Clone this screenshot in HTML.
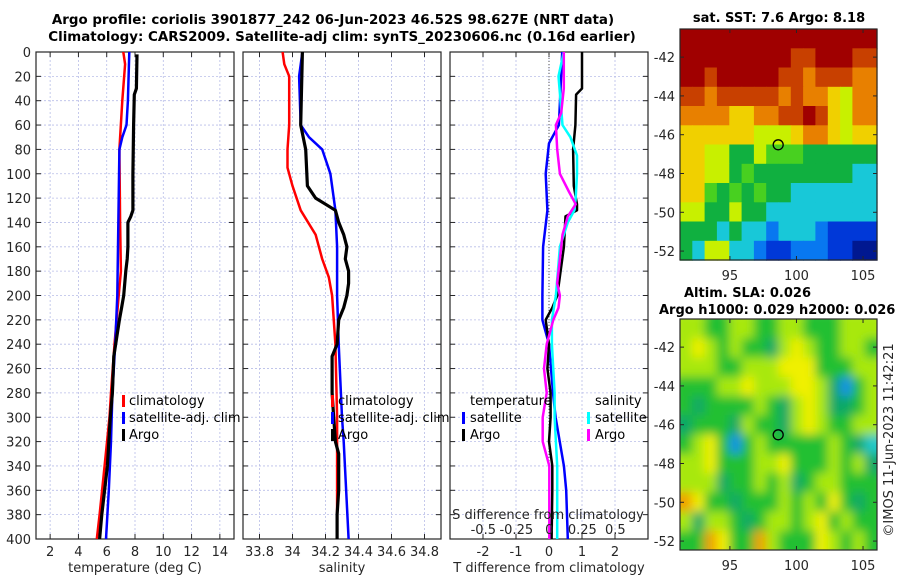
<!DOCTYPE html>
<html><head><meta charset="utf-8">
<style>
html,body{margin:0;padding:0;background:#fff;}
svg{display:block;font-family:"DejaVu Sans","Liberation Sans",sans-serif;}
.tk{font-size:13px;fill:#262626;}
.ttl{font-size:13px;font-weight:bold;fill:#000;}
.ttlm{font-size:13.4px;font-weight:bold;fill:#000;}
.lg{font-size:13px;fill:#000;}
</style></head>
<body>
<svg id="fig" width="900" height="580" viewBox="0 0 900 580">
<defs>
<clipPath id="c1"><rect x="36" y="52" width="198" height="487"/></clipPath>
<clipPath id="c2"><rect x="243" y="52" width="198" height="487"/></clipPath>
<clipPath id="c3"><rect x="450" y="52" width="198" height="487"/></clipPath>
<clipPath id="cm2"><rect x="680" y="319" width="197" height="231"/></clipPath>
<filter id="blur" x="-5%" y="-5%" width="110%" height="110%"><feGaussianBlur stdDeviation="5"/></filter>
</defs>
<text class="ttlm" x="333" y="24" text-anchor="middle">Argo profile: coriolis 3901877_242 06-Jun-2023 46.52S 98.627E (NRT data)</text>
<text class="ttlm" x="342" y="41" text-anchor="middle">Climatology: CARS2009. Satellite-adj clim: synTS_20230606.nc (0.16d earlier)</text>
<text class="ttl" x="779" y="22" text-anchor="middle">sat. SST: 7.6 Argo: 8.18</text>
<text class="ttl" x="684" y="297">Altim. SLA: 0.026</text>
<text class="ttl" x="659" y="314">Argo h1000: 0.029 h2000: 0.026</text>
<text class="tk" transform="translate(893,440) rotate(-90)" text-anchor="middle">©IMOS 11-Jun-2023 11:42:21</text>
<g id="root"></g>
</svg>
<script>
// ---- data ----
const depthTicks=[0,20,40,60,80,100,120,140,160,180,200,220,240,260,280,300,320,340,360,380,400];
const tTicks=[2,4,6,8,10,12,14];
const sTicks=[33.8,34,34.2,34.4,34.6,34.8];
const sTickLabels=["33.8","34","34.2","34.4","34.6","34.8"];
const dTicks=[-2,-1,0,1,2];
const dsTicks=[-0.5,-0.25,0,0.25,0.5];
const dsTickLabels=["-0.5","-0.25","0","0.25","0.5"];

const tClimDepth=[0,10,40,80,140,180,200,240,280,300,340,380,400];
const tClimVal=[7.17,7.3,7.1,6.9,6.95,7.0,6.85,6.55,6.3,6.2,5.85,5.5,5.3];
const tSatDepth=[0,40,60,70,80,120,160,200,240,280,320,360,400];
const tSatVal=[7.6,7.5,7.4,7.1,6.9,6.85,6.8,6.75,6.6,6.4,6.3,6.15,5.95];
const tArgoDepth=[2,30,35,60,100,130,135,140,160,170,180,200,210,220,250,280,300,340,360,380,400];
const tArgoVal=[8.14,8.1,7.95,7.9,7.85,7.85,7.7,7.5,7.5,7.45,7.35,7.2,7.05,6.9,6.5,6.4,6.25,6.05,5.85,5.65,5.5];

const sClimDepth=[0,10,20,60,80,95,110,130,150,170,185,200,240,300,400];
const sClimVal=[33.94,33.95,33.98,33.98,33.97,33.97,34.0,34.05,34.14,34.18,34.22,34.24,34.26,34.27,34.27];
const sSatDepth=[0,20,60,70,80,100,130,160,200,240,300,320,400];
const sSatVal=[34.06,34.04,34.05,34.1,34.18,34.23,34.26,34.27,34.27,34.28,34.3,34.31,34.34];
const sArgoDepth=[0,60,80,110,120,125,130,140,150,160,170,180,190,200,210,220,240,250,280,300,320,330,360,380,400];
const sArgoVal=[34.06,34.05,34.08,34.09,34.14,34.2,34.26,34.28,34.31,34.33,34.32,34.34,34.34,34.33,34.31,34.28,34.27,34.24,34.24,34.25,34.26,34.28,34.28,34.27,34.27];

const dtSatDepth=[0,60,75,100,130,160,200,220,240,280,300,340,360,400];
const dtSatVal=[0.4,0.3,0.0,-0.1,-0.05,-0.18,-0.2,-0.2,0.0,0.12,0.2,0.45,0.52,0.57];
const dtArgoDepth=[0,30,35,60,80,110,125,130,135,160,200,210,220,240,260,280,300,320,340,360,400];
const dtArgoVal=[1.0,1.0,0.82,0.8,0.73,0.75,0.85,0.85,0.5,0.45,0.25,0.1,-0.1,0.0,-0.05,0.05,0.05,0.0,0.1,0.1,0.08];
const dsSatDepth=[0,20,60,70,85,100,120,130,140,160,200,220,240,280,300,340,400];
const dsSatVal=[0.11,0.07,0.1,0.16,0.21,0.21,0.2,0.19,0.14,0.08,0.05,0.02,0.02,0.04,0.04,0.06,0.06];
const dsArgoDepth=[0,30,50,60,80,100,115,125,135,150,170,190,200,210,220,240,260,280,300,320,340,400];
const dsArgoVal=[0.11,0.11,0.09,0.05,0.06,0.08,0.15,0.2,0.14,0.1,0.08,0.06,0.08,0.07,0.03,-0.02,-0.04,-0.02,-0.05,-0.05,0.0,0.0];

const lonTicks=[95,100,105];
const latTicks=[-42,-44,-46,-48,-50,-52];
const argoLon=98.627, argoLat=-46.52;
const sstGrid=[
[10,10,10,10,10,10,10,10,10,10,10,10,10,10,10,10],
[10,10,10,10,10,10,10,10,10,9,9,10,10,10,9,9],
[10,10,9,10,10,10,10,10,9,9,8,9,9,9,8,8],
[9,9,8,9,9,9,9,9,8,9,8,8,7,6,8,8],
[8,8,8,8,7,7,8,8,9,9,10,9,7,6,8,8],
[7,7,7,7,7,7,6,6,6,7,8,8,7,6,7,7],
[7,7,6,6,4,4,6,5,5,5,4,4,4,4,4,4],
[7,7,6,6,4,5,4,4,4,4,4,4,4,4,3,3],
[7,7,5,4,5,4,5,4,4,3,3,3,3,3,3,3],
[6,6,4,4,6,4,4,3,3,3,3,3,3,3,3,3],
[4,4,4,3,4,3,3,2,3,3,3,2,1,1,1,1],
[4,3,6,6,3,3,2,1,1,2,2,2,1,1,0,0]];
const slaGrid=[
[1,1,0,0,1,1,0,0,1,1,0,0,0,1,1,1],
[1,2,1,0,1,0,0,-1,1,2,1,0,0,1,1,0],
[1,1,1,0,0,1,1,1,2,2,2,0,0,0,1,1],
[0,0,0,1,1,2,1,1,1,2,2,1,-1,-3,0,1],
[0,-1,0,0,0,0,1,0,-1,1,2,1,-1,-1,0,1],
[-1,0,0,0,-1,1,0,0,-1,1,2,1,0,0,1,1],
[0,1,2,0,-3,0,1,0,0,0,0,0,1,0,-1,-2],
[1,1,2,0,0,0,1,1,2,0,0,0,1,0,1,-1],
[1,1,1,-1,0,0,1,0,1,-1,0,1,1,0,0,0],
[3,2,0,0,-1,0,0,0,1,0,1,0,2,0,-1,0],
[1,-1,1,1,0,-1,0,1,1,0,1,2,0,1,0,0],
[0,0,3,2,0,0,3,1,0,0,0,2,1,0,1,0]];

// ---- helpers ----
const NS="http://www.w3.org/2000/svg";
const root=document.getElementById('root');
function mk(tag,attrs,parent){const e=document.createElementNS(NS,tag);for(const k in attrs)e.setAttribute(k,attrs[k]);(parent||root).appendChild(e);return e;}
const Y0=52,Y1=539;
const yD=d=>Y0+(d/400)*(Y1-Y0);

function panel(name,x0,x1,xmin,xmax,ticks,labels,xlabel,clip){
  const g=mk('g',{});
  
  
  const sx=v=>x0+(v-xmin)/(xmax-xmin)*(x1-x0);
  ticks.forEach((t,i)=>{
    const gl=mk('line',{x1:sx(t),x2:sx(t),y1:Y0,y2:Y1,stroke:'#b8bde8','stroke-width':0.8,'stroke-dasharray':'2,2'},g);
    
    
    mk('line',{x1:sx(t),x2:sx(t),y1:Y1,y2:Y1-5,stroke:'#262626'},g);
    mk('line',{x1:sx(t),x2:sx(t),y1:Y0,y2:Y0+5,stroke:'#262626'},g);
    const tx=mk('text',{x:sx(t),y:556,'text-anchor':'middle',class:'tk'},g);
    tx.textContent=labels[i];
    
    
  });
  depthTicks.forEach(d=>{
    if(d>0&&d<400){const gl=mk('line',{x1:x0,x2:x1,y1:yD(d),y2:yD(d),stroke:'#b8bde8','stroke-width':0.8,'stroke-dasharray':'2,2'},g);
    
    }
    mk('line',{x1:x0,x2:x0+5,y1:yD(d),y2:yD(d),stroke:'#262626'},g);
    mk('line',{x1:x1,x2:x1-5,y1:yD(d),y2:yD(d),stroke:'#262626'},g);
  });
  const fr=mk('rect',{x:x0,y:Y0,width:x1-x0,height:Y1-Y0,fill:'none',stroke:'#262626','stroke-width':1.2},g);
  
  
  if(xlabel){const xl=mk('text',{x:(x0+x1)/2,y:572,'text-anchor':'middle',class:'tk'},g);xl.textContent=xlabel;
  
  }
  return {g,sx,clip};
}
function line(p,name,depths,vals,color,w,scale){
  const s=scale||p.sx;
  const pts=depths.map((d,i)=>s(vals[i]).toFixed(1)+','+yD(d).toFixed(1)).join(' ');
  const pl=mk('polyline',{points:pts,fill:'none',stroke:color,'stroke-width':w,'stroke-linejoin':'round','clip-path':'url(#'+p.clip+')'},p.g);
  
  
}
function legend(g,x,y,items,name){
  const lg=mk('g',{},g);
  
  
  items.forEach((it,i)=>{
    if(it[1]) mk('rect',{x:x,y:y+i*17-10,width:3,height:12,fill:it[1]},lg);
    const t=mk('text',{x:x+it[2],y:y+i*17,class:'lg'},lg);t.textContent=it[0];
  });
}

// y tick labels (panel 1)
depthTicks.forEach(d=>{const t=mk('text',{x:31,y:yD(d)+5,'text-anchor':'end',class:'tk'});t.textContent=d;
  
  });

const p1=panel('temperature-panel',36,234,1,15,tTicks,tTicks.map(String),'temperature (deg C)','c1');
line(p1,'temperature-climatology-line',tClimDepth,tClimVal,'#ff0000',2.5);
line(p1,'temperature-satellite-line',tSatDepth,tSatVal,'#0000ff',2.5);
line(p1,'temperature-argo-line',tArgoDepth,tArgoVal,'#000000',3.2);
legend(p1.g,122,405,[['climatology','#ff0000',7],['satellite-adj. clim','#0000ff',7],['Argo','#000',7]],'temperature-legend');

const p2=panel('salinity-panel',243,441,33.7,34.9,sTicks,sTickLabels,'salinity','c2');
line(p2,'salinity-climatology-line',sClimDepth,sClimVal,'#ff0000',2.5);
line(p2,'salinity-satellite-line',sSatDepth,sSatVal,'#0000ff',2.5);
line(p2,'salinity-argo-line',sArgoDepth,sArgoVal,'#000000',3.2);
legend(p2.g,331,405,[['climatology','#ff0000',7],['satellite-adj. clim','#0000ff',7],['Argo','#000',7]],'salinity-legend');

const p3=panel('difference-panel',450,648,-3,3,dTicks,dTicks.map(String),'T difference from climatology','c3');
const sxS=v=>549.3+v*132;
const zl=mk('line',{x1:p3.sx(0),x2:p3.sx(0),y1:Y0,y2:Y1,stroke:'#555','stroke-width':1,'stroke-dasharray':'1,2'},p3.g);


line(p3,'t-diff-satellite-line',dtSatDepth,dtSatVal,'#0000ff',2.5);
line(p3,'t-diff-argo-line',dtArgoDepth,dtArgoVal,'#000000',2.5);
line(p3,'s-diff-satellite-line',dsSatDepth,dsSatVal,'#00ffff',2.5,sxS);
line(p3,'s-diff-argo-line',dsArgoDepth,dsArgoVal,'#ff00ff',2.5,sxS);
legend(p3.g,462,405,[['temperature',null,8],['satellite','#0000ff',8],['Argo','#000',8]],'t-diff-legend');
legend(p3.g,587,405,[['salinity',null,8],['satellite','#00ffff',8],['Argo','#ff00ff',8]],'s-diff-legend');
{const t=mk('text',{x:548,y:519,'text-anchor':'middle',class:'tk'},p3.g);t.textContent='S difference from climatology';

}
dsTicks.forEach((v,i)=>{const t=mk('text',{x:sxS(v),y:534,'text-anchor':'middle',class:'tk'},p3.g);t.textContent=dsTickLabels[i];
  
  });

// ---- maps ----
const sstPal=['#001890','#0038d8','#0878f0','#18c8d8','#10b040','#48d020','#c8f000','#f0d000','#e88000','#c84000','#a00000'];
const slaPal={'-3':'#1890e8','-2':'#20c8c8','-1':'#10a868','0':'#20c030','1':'#a8e810','2':'#f0f000','3':'#f0a000'};
function map(name,x0,x1,y0,y1,yTop,yBot,grid,pal,clipId,blur){
  const g=mk('g',{});
  
  
  const lon0=91.25,lon1=106.05;
  const sx=v=>x0+(v-lon0)/(lon1-lon0)*(x1-x0);
  const sy=v=>y0+(yTop-v)/(yTop-yBot)*(y1-y0);
  const cg=mk('g',clipId?{'clip-path':'url(#'+clipId+')'}:{},g);
  const ig=mk('g',blur?{filter:'url(#blur)'}:{},cg);
  const rows=grid.length,cols=grid[0].length;
  const cw=(x1-x0)/cols,ch=(y1-y0)/rows;
  grid.forEach((r,i)=>r.forEach((v,j)=>{
    const c=mk('rect',{x:(x0+j*cw-(blur&&j==0?8:0)).toFixed(1),y:(y0+i*ch-(blur&&i==0?8:0)).toFixed(1),width:(cw+0.6+(blur&&(j==0||j==cols-1)?8:0)).toFixed(1),height:(ch+0.6+(blur&&(i==0||i==rows-1)?8:0)).toFixed(1),fill:pal[v]},ig);
    
    
  }));
  const fr=mk('rect',{x:x0,y:y0,width:x1-x0,height:y1-y0,fill:'none',stroke:'#262626','stroke-width':1.2},g);
  
  
  lonTicks.forEach(v=>{mk('line',{x1:sx(v),x2:sx(v),y1:y1,y2:y1-4,stroke:'#262626'},g);mk('line',{x1:sx(v),x2:sx(v),y1:y0,y2:y0+4,stroke:'#262626'},g);
    const t=mk('text',{x:sx(v),y:y1+20,'text-anchor':'middle',class:'tk'},g);t.textContent=v;
    
    });
  latTicks.forEach(v=>{mk('line',{x1:x0,x2:x0+4,y1:sy(v),y2:sy(v),stroke:'#262626'},g);mk('line',{x1:x1,x2:x1-4,y1:sy(v),y2:sy(v),stroke:'#262626'},g);
    const t=mk('text',{x:x0-5,y:sy(v)+5,'text-anchor':'end',class:'tk'},g);t.textContent=v;
    
    });
  const m=mk('circle',{cx:sx(argoLon),cy:sy(argoLat),r:5,fill:'none',stroke:'#000','stroke-width':1.3},g);
  
  
}
map('sst-map',680,877,29,260,-40.55,-52.46,sstGrid,sstPal,null,false);
map('sla-map',680,877,319,550,-40.55,-52.46,slaGrid,slaPal,'cm2',true);
</script>
</body></html>
